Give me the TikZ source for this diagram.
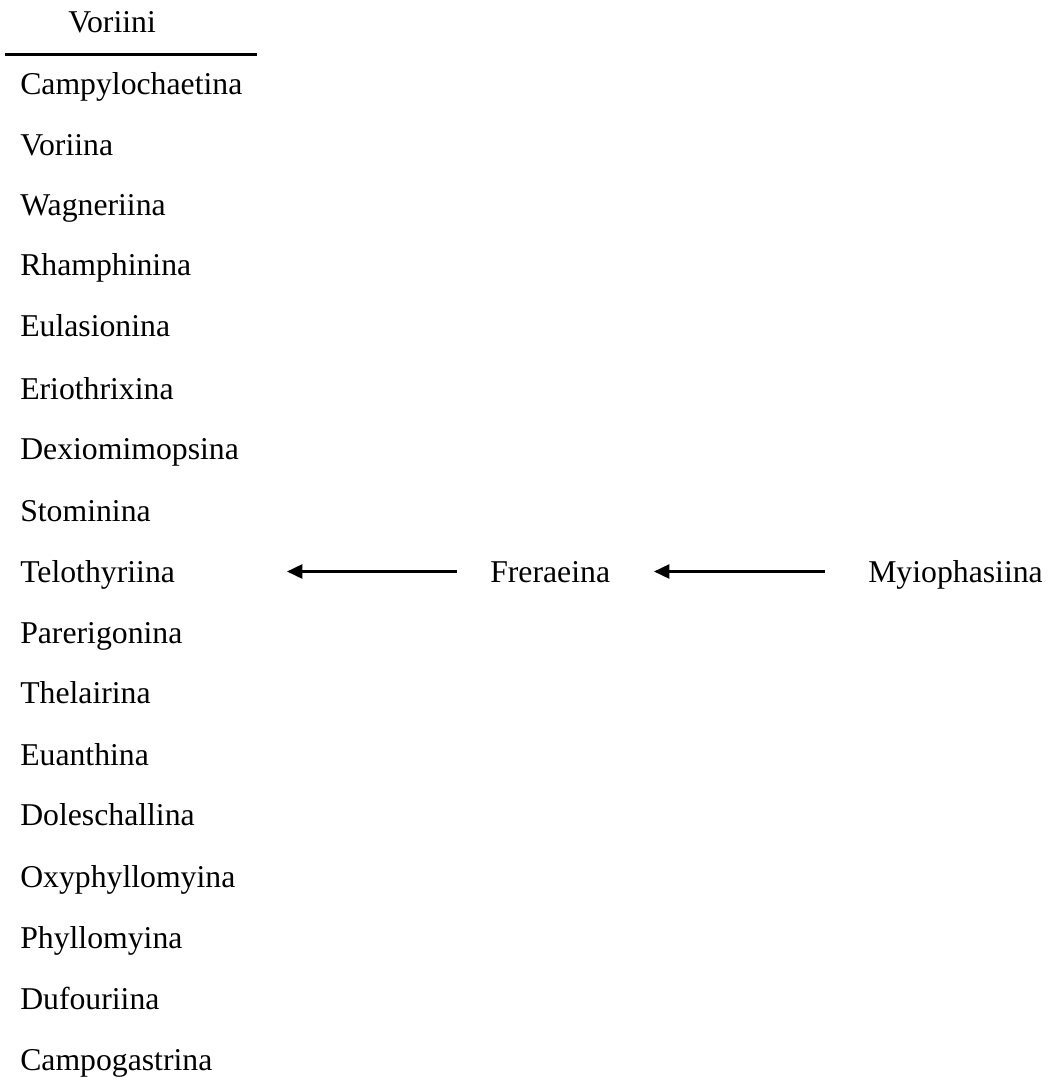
\documentclass[tikz,border=0pt]{standalone}
\usepackage{fontspec}
\setmainfont{Liberation Serif}
\usetikzlibrary{calc,arrows.meta}
\begin{document}
\begin{tikzpicture}[x=0.75pt,y=-0.75pt,
  taxon/.style={inner sep=0pt,anchor=base west,font=\fontsize{23.8}{28}\selectfont},
  arr/.style={line width=1.9pt,-{Stealth[length=11.5pt,width=10.5pt,inset=0pt]}}]
\useasboundingbox (0,0) rectangle (1047,1077);
\node[taxon] (hdr) at (68,33) {Voriini};
\coordinate (l1) at (5,55);
\coordinate (l2) at (257,55);
\draw[line width=2.25pt] (l1) -- (l2);
\node[taxon] (t1) at (20,95) {Campylochaetina};
\node[taxon] (t2) at (20,155.5) {Voriina};
\node[taxon] (t3) at (20,215.5) {Wagneriina};
\node[taxon] (t4) at (20,275.5) {Rhamphinina};
\node[taxon] (t5) at (20,336) {Eulasionina};
\node[taxon] (t6) at (20,399) {Eriothrixina};
\node[taxon] (t7) at (20,459.5) {Dexiomimopsina};
\node[taxon] (t8) at (20,521.5) {Stominina};
\node[taxon] (telo) at (20,582.5) {Telothyriina};
\node[taxon] (t10) at (20,643) {Parerigonina};
\node[taxon] (t11) at (20,703.5) {Thelairina};
\node[taxon] (t12) at (20,765) {Euanthina};
\node[taxon] (t13) at (20,825.5) {Doleschallina};
\node[taxon] (t14) at (20,887) {Oxyphyllomyina};
\node[taxon] (t15) at (20,948) {Phyllomyina};
\node[taxon] (t16) at (20,1009.5) {Dufouriina};
\node[taxon] (t17) at (20,1070) {Campogastrina};
\node[taxon] (fre) at (490,582.5) {Freraeina};
\node[taxon] (myo) at (868,582.5) {Myiophasiina};
\coordinate (a1s) at ($(fre.base west)+(-33,-11)$);
\coordinate (a1e) at ($(telo.base west)+(267,-11)$);
\coordinate (a2s) at ($(myo.base west)+(-43,-11)$);
\coordinate (a2e) at ($(fre.base west)+(164,-11)$);
\draw[arr] (a1s) -- (a1e);
\draw[arr] (a2s) -- (a2e);
\end{tikzpicture}
\end{document}
